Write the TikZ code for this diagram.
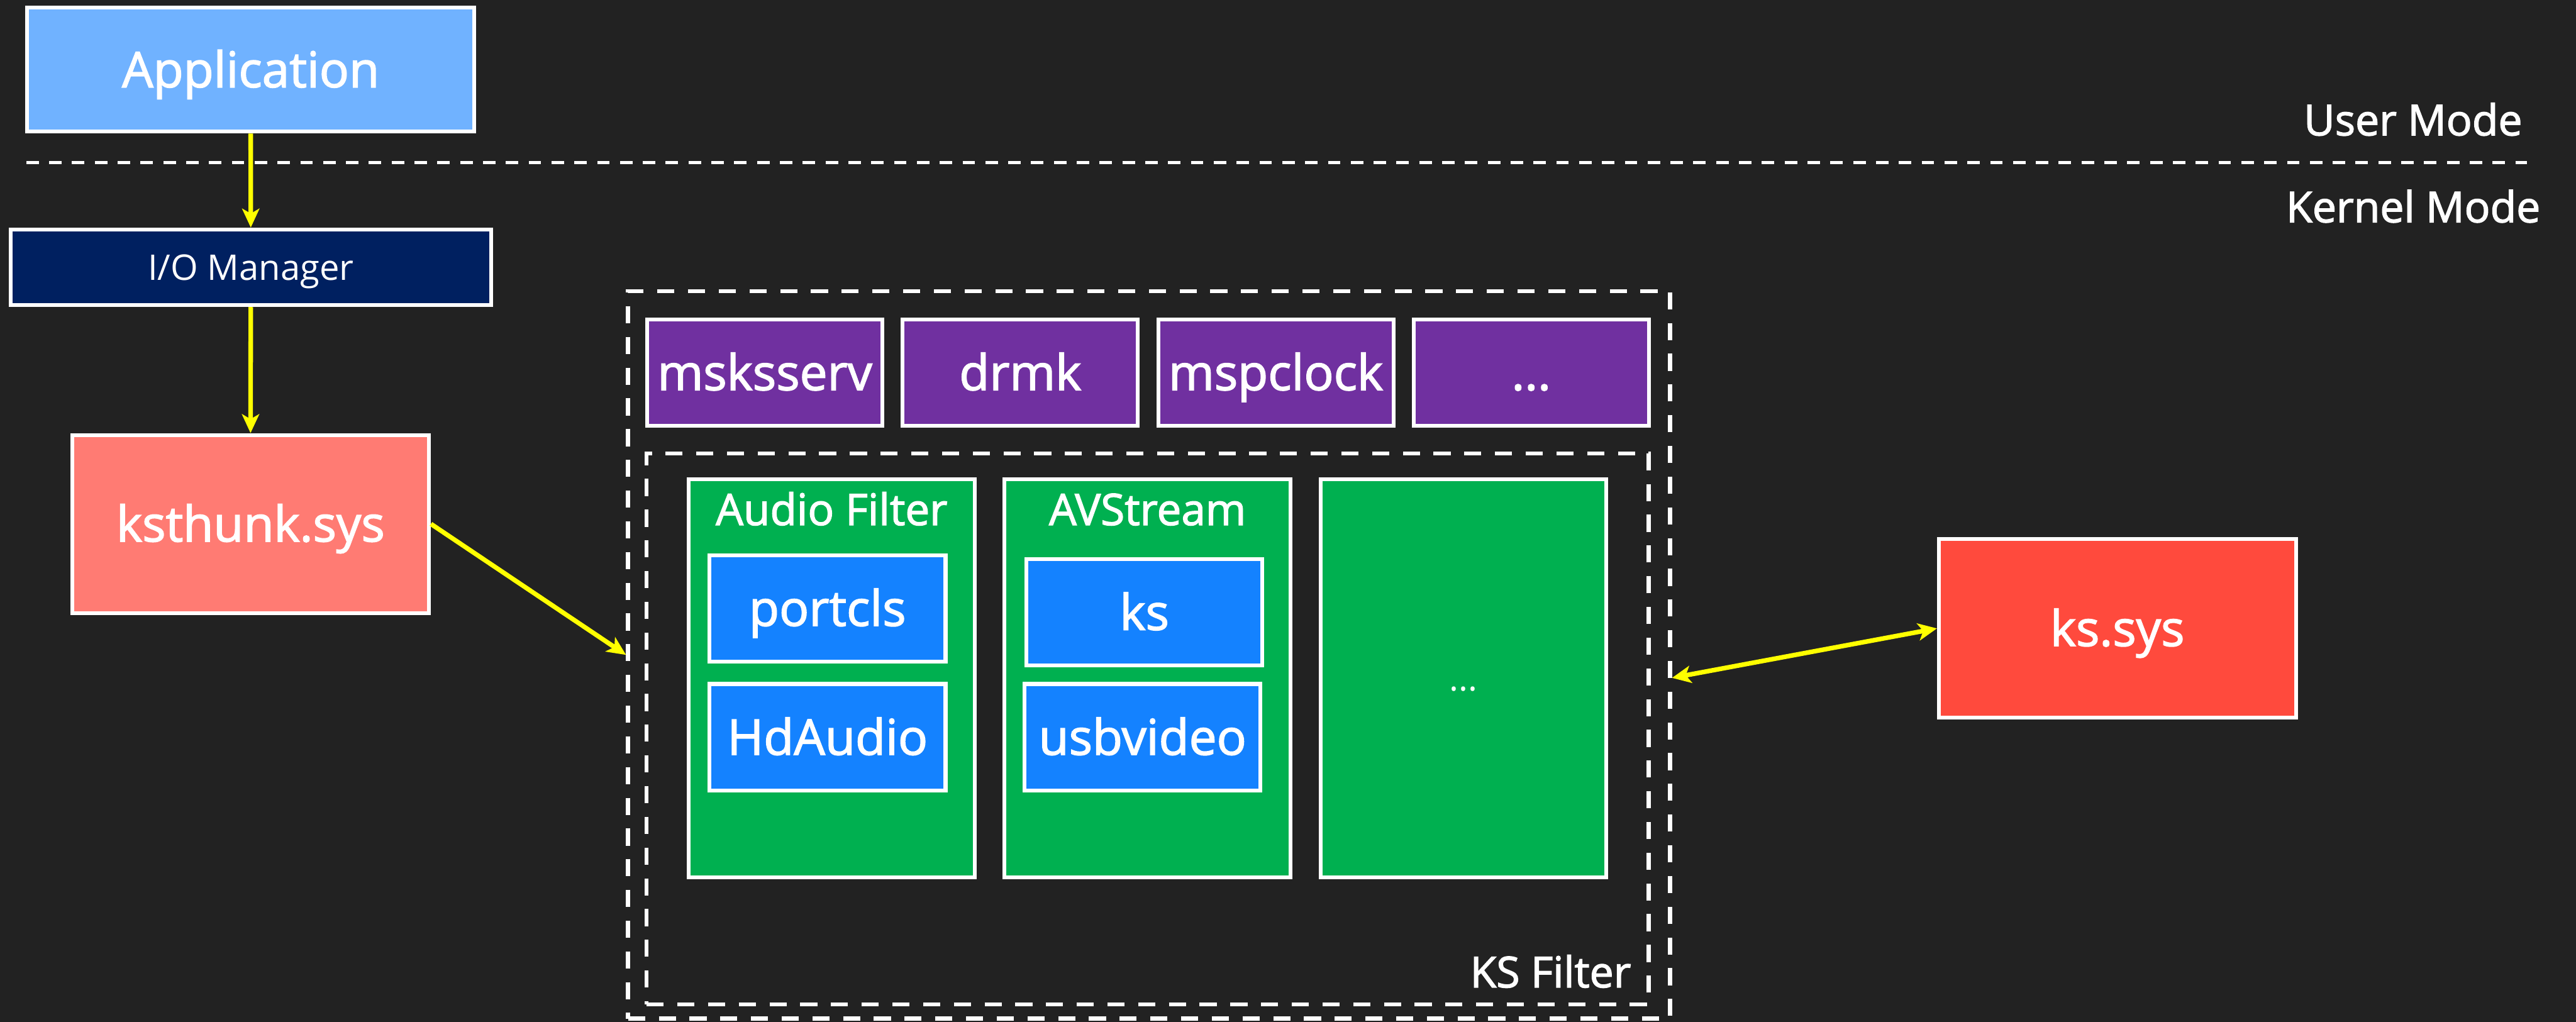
\documentclass[tikz,border=0pt]{standalone}
\usepackage{fontspec}
\setmainfont{Open Sans}
\newfontfamily\semib{Open Sans}[FakeBold=2]
\usetikzlibrary{arrows.meta}

\definecolor{canvas}{HTML}{222222}
\definecolor{appblue}{HTML}{70B2FF}
\definecolor{navy}{HTML}{002060}
\definecolor{salmon}{HTML}{FF7B73}
\definecolor{ksred}{HTML}{FF4A3D}
\definecolor{drvpurple}{HTML}{7030A0}
\definecolor{filtgreen}{HTML}{00B050}
\definecolor{modblue}{HTML}{1482FF}
\definecolor{flow}{HTML}{FFFF00}

\begin{document}
\begin{tikzpicture}[x=1pt,y=-1pt,
  box/.style={draw=white, line width=2.3pt, inner sep=0pt, text=white,
    text height=21.4pt, text depth=0pt, align=center,
    font=\semib\fontsize{30}{36}\selectfont},
  smallbox/.style={box, text height=15.4pt, font=\fontsize{21.5}{26}\selectfont},
  tag/.style={text=white, inner sep=0pt, font=\semib\fontsize{26}{31}\selectfont},
  title/.style={text=white, inner sep=0pt, anchor=base, font=\semib\fontsize{26.5}{32}\selectfont},
  zone/.style={draw=white, line width=2.5pt, dash pattern=on 10.4pt off 8.3pt, inner sep=0pt},
  modeline/.style={draw=white, line width=2pt, dash pattern=on 7.6pt off 6.3pt},
  tipshape/.tip={Stealth[length=11.5pt, width=10.5pt, inset=3pt]},
  conn/.style={draw=flow, fill=none, line width=2.8pt, -tipshape},
  biconn/.style={draw=flow, line width=2.8pt, tipshape-tipshape}]

  % canvas
  \fill[canvas] (0,0) rectangle (1568,622);
  \useasboundingbox (0,0) rectangle (1568,622);

  % user / kernel boundary
  \coordinate (divL) at (16,99.1);
  \coordinate (divR) at (1538,99.1);
  \draw[modeline] (divL) -- (divR);
  \node[tag, anchor=base east] (usermode) at (1535.5,82.4) {User Mode};
  \node[tag, anchor=base east] (kernelmode) at (1546.5,135.3) {Kernel Mode};

  % left column
  \node[box, fill=appblue, minimum width=272.1pt, minimum height=75.5pt] (app) at (152.6,42.4) {Application};
  \node[smallbox, fill=navy, minimum width=292.4pt, minimum height=46.1pt] (io) at (152.65,162.7) {I/O Manager};
  \node[box, fill=salmon, minimum width=217.3pt, minimum height=108.3pt] (ksthunk) at (152.5,318.9) {ksthunk.sys};

  % ks.sys
  \node[box, fill=ksred, minimum width=217.3pt, minimum height=108.7pt] (kssys) at (1288.8,382.5) {ks.sys};

  % KS filter zones
  \node[zone, minimum width=634.2pt, minimum height=442.8pt] (ksouter) at (699.4,398.6) {};
  \node[zone, minimum width=610pt, minimum height=335.3pt] (ksinner) at (698.6,443.65) {};
  \node[tag, anchor=base east] (ksfilter) at (993,601) {KS Filter};

  % support drivers
  \begin{scope}[every node/.style={box, fill=drvpurple, minimum width=143.2pt, minimum height=64.8pt}]
    \node (msksserv) at (465.55,226.75) {msksserv};
    \node (drmk) at (621.05,226.75) {drmk};
    \node (mspclock) at (776.55,226.75) {mspclock};
    \node (moredrv) at (932.05,226.75) {...};
  \end{scope}

  % filter groups
  \begin{scope}[every node/.style={box, fill=filtgreen, minimum width=174.1pt, minimum height=242.2pt}]
    \node (audio) at (506.2,412.75) {};
    \node (avstream) at (698.5,412.75) {};
    \node[text height=15.4pt, font=\fontsize{21.5}{26}\selectfont] (morefilt) at (890.8,412.75) {...};
  \end{scope}
  \node[title] (audiotitle) at (506.2,319.6) {Audio Filter};
  \node[title] (avtitle) at (698.5,319.6) {AVStream};

  % minidrivers
  \begin{scope}[every node/.style={box, fill=modblue, minimum width=143.7pt, minimum height=64.8pt}]
    \node (portcls) at (503.7,370.25) {portcls};
    \node (hdaudio) at (503.7,448.7) {HdAudio};
    \node (ks) at (696.6,372.7) {ks};
    \node (usbvideo) at (695.45,448.7) {usbvideo};
  \end{scope}

  % connectors
  \draw[conn] (app.south) -- (io.north);
  \draw[conn] (io.south) -- (ksthunk.north);
  \draw[conn] (ksthunk.east) -- (ksouter.west);
  \coordinate (ksport) at ([yshift=-14pt]ksouter.east);
  \draw[biconn] (ksport) -- (kssys.west);
\end{tikzpicture}
\end{document}
